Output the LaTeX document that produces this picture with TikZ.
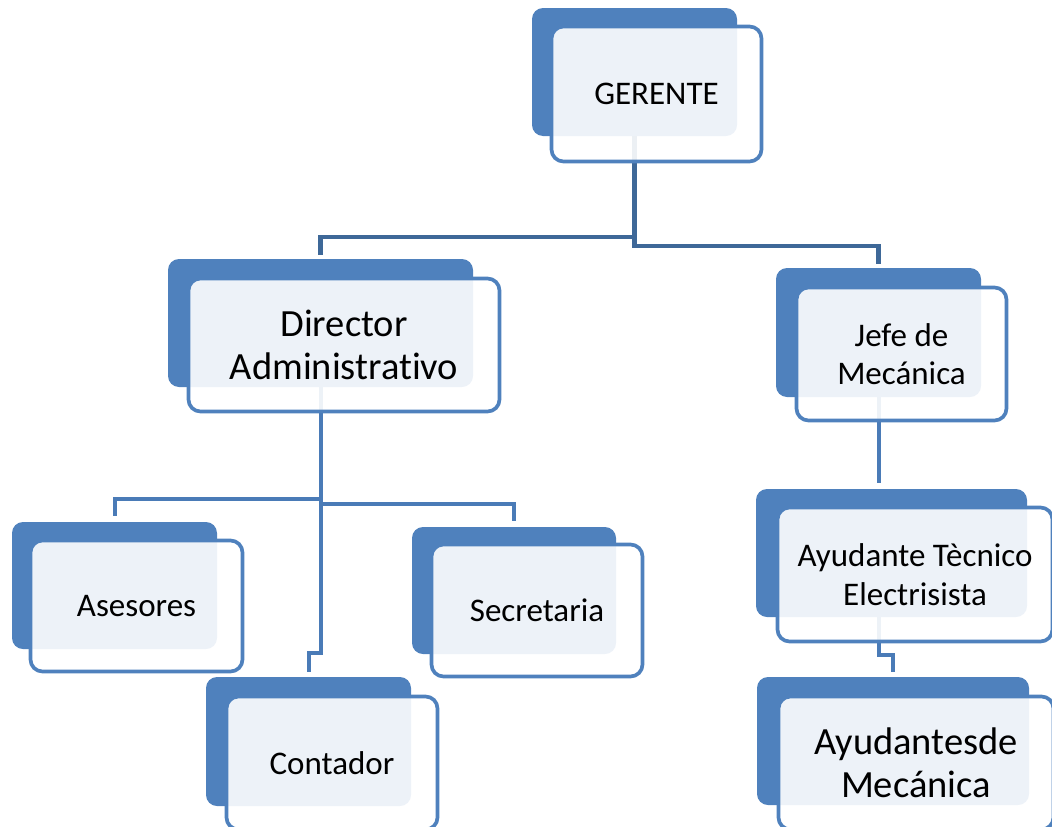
\documentclass[tikz,border=0pt]{standalone}
\usepackage{fontspec}
\setmainfont[Ligatures=NoCommon]{Carlito}
\definecolor{accent}{HTML}{4F81BD}
\definecolor{linktop}{HTML}{3E6898}
\definecolor{link}{HTML}{4A7BB7}
\newcommand\boxfont{\fontsize{33}{38.5}\selectfont}
\newcommand\bigboxfont{\fontsize{38.5}{43}\selectfont}
\begin{document}
\begin{tikzpicture}[x=1pt,y=-1pt,
  backbox/.style={rectangle, rounded corners=11pt, fill=accent, draw=none,
    inner sep=0pt, minimum width=205pt, minimum height=128pt},
  frontbox/.style={rectangle, rounded corners=12pt, draw=accent, line width=3.7pt,
    fill=white, fill opacity=0.9, text opacity=1, text=black, inner sep=0pt,
    align=center, minimum width=210pt, minimum height=133pt, font=\boxfont},
  toplink/.style={draw=linktop, line width=4.2pt},
  sublink/.style={draw=link, line width=4pt}]
\clip (0,0) rectangle (1052,827);

% back plates
\node[backbox] (gerB) at (634.5,72) {};
\node[backbox, minimum width=305pt] (dirB) at (320.5,323) {};
\node[backbox, minimum height=129pt] (jefB) at (878.5,332.5) {};
\node[backbox, minimum height=127pt] (aseB) at (114.5,585.5) {};
\node[backbox, minimum width=204pt, minimum height=127pt] (secB) at (514,590.5) {};
\node[backbox, minimum height=129pt] (conB) at (308.5,741.5) {};
\node[backbox, minimum width=271pt] (ayuB) at (891.5,553) {};
\node[backbox, minimum width=272pt] (aydB) at (893,741) {};

% connectors
\draw[toplink] (gerB.south) -- ++(0,101) -| ([yshift=4pt]dirB.north);
\draw[toplink] (gerB.south) -- ++(0,110) -| ([yshift=4pt]jefB.north);
\draw[sublink] (dirB.south) -- ++(0,112) -| ([yshift=6pt]aseB.north);
\draw[sublink] (dirB.south) -- ++(0,117) -| ([yshift=6pt]secB.north);
\draw[sublink] (dirB.south) -- ++(0,266) -| ([yshift=5pt]conB.north);
\draw[sublink] (jefB.south) -- ([yshift=6pt]jefB.south |- ayuB.north);
\draw[sublink] (jefB.south |- ayuB.south) -- ++(0,38) -| ([yshift=5pt]aydB.north);

% front cards with labels
\node[frontbox, minimum height=135pt] (gerF) at (656.5,94) {GERENTE};
\node[frontbox, minimum width=311pt, font=\bigboxfont] (dirF) at (344,345) {Director\\Administrativo};
\node[frontbox] (jefF) at (901.5,354) {Jefe de\\Mec\'anica};
\node[frontbox, minimum width=212pt, minimum height=131pt] (aseF) at (136.5,606) {Asesores};
\node[frontbox, minimum width=211pt, minimum height=132pt] (secF) at (537,610.5) {Secretaria};
\node[frontbox, minimum width=211pt] (conF) at (332,763) {Contador};
\node[frontbox, minimum width=275pt, minimum height=134pt] (ayuF) at (915,574.5) {Ayudante T\`ecnico\\Electrisista};
\node[frontbox, minimum width=275pt, font=\bigboxfont] (aydF) at (916,763) {Ayudantesde\\Mec\'anica};
\end{tikzpicture}
\end{document}
